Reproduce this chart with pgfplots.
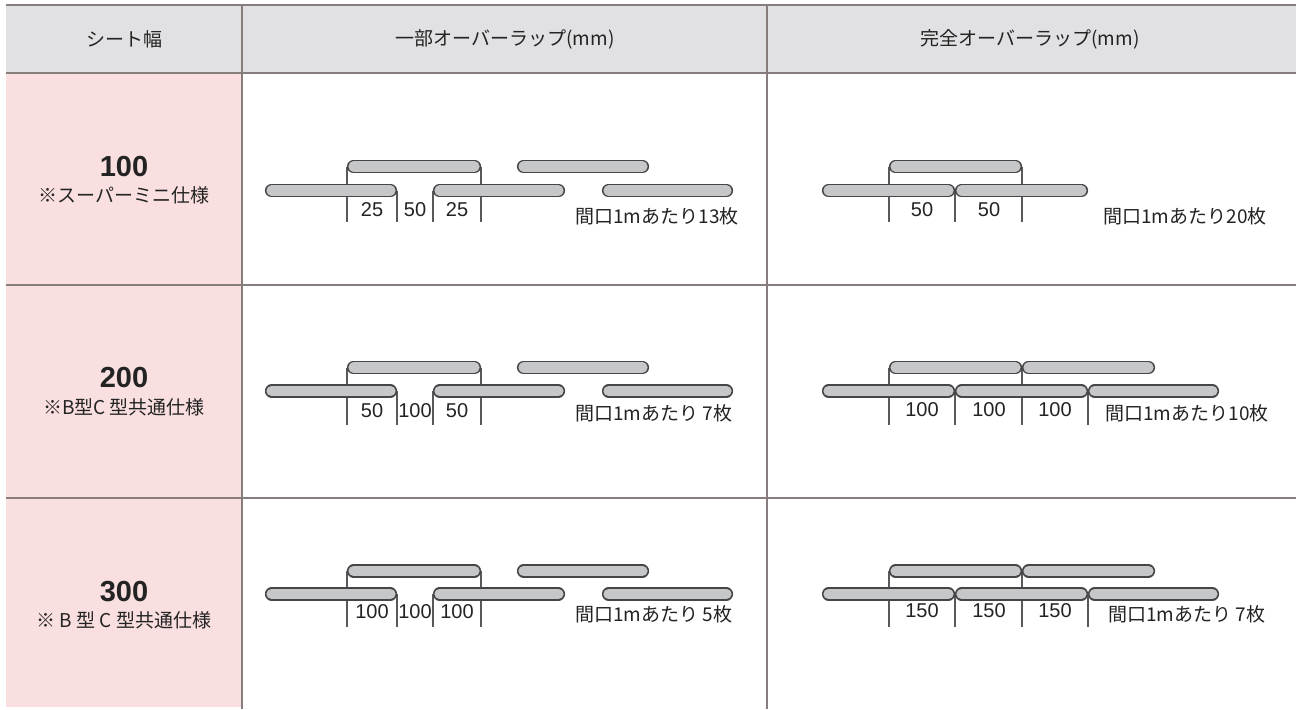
\documentclass[border=0pt]{standalone}
\usepackage{pgfplots}
\pgfplotsset{compat=1.18}
\usepackage{fontspec}
\setmainfont{Liberation Sans}
\newfontfamily\jp{Noto Sans CJK JP}
\definecolor{headgray}{RGB}{225,225,227}
\definecolor{pink}{RGB}{249,223,224}
\definecolor{rule}{RGB}{135,125,125}
\definecolor{slatfill}{RGB}{198,199,201}
\definecolor{slatline}{RGB}{70,70,73}
\definecolor{txt}{RGB}{35,35,35}
\begin{document}
\begin{tikzpicture}
\begin{axis}[
  width=648pt, height=354.5pt, scale only axis,
  xmin=0, xmax=1296, ymin=0, ymax=709, y dir=reverse,
  hide axis, unbounded coords=jump, clip=true,
  slatout/.style={line width=6.6pt, line cap=round, color=slatline, no marks},
  slatin/.style={line width=5.1pt, line cap=round, color=slatfill, no marks},
  dim/.style={line width=0.65pt, color=slatline!90, no marks},
  tab/.style={line width=0.8pt, color=rule, no marks},
]
% page background (full extent)
\addplot[fill=white, draw=none] coordinates {(0,0) (1296,0) (1296,709) (0,709)} -- cycle;
% backgrounds
\addplot[fill=headgray, draw=none] coordinates {(6,5) (1296,5) (1296,73) (6,73)} -- cycle;
\addplot[fill=pink, draw=none] coordinates {(6,73) (242,73) (242,707) (6,707)} -- cycle;
% table rules
\addplot[tab] coordinates {(6,5) (1296,5) (nan,nan) (6,73) (1296,73) (nan,nan) (6,285) (1296,285) (nan,nan) (6,498) (1296,498)};
\addplot[tab] coordinates {(242,5) (242,709) (nan,nan) (767,5) (767,709)};

% ---------- dimension lines ----------
% partial overlap
\addplot[dim] coordinates {
(347,166.5) (347,222) (nan,nan) (481,166.5) (481,222) (nan,nan) (397,190.5) (397,222) (nan,nan) (433,190.5) (433,222) (nan,nan)
(347,367.5) (347,425) (nan,nan) (481,367.5) (481,425) (nan,nan) (397,391) (397,425) (nan,nan) (433,391) (433,425) (nan,nan)
(347,571) (347,627) (nan,nan) (481,571) (481,627) (nan,nan) (397,594) (397,627) (nan,nan) (433,594) (433,627)};
% full overlap
\addplot[dim] coordinates {
(889,166.5) (889,222) (nan,nan) (1022,166.5) (1022,222) (nan,nan) (955,190.5) (955,222) (nan,nan)
(889,367.5) (889,425) (nan,nan) (1022,367.5) (1022,425) (nan,nan) (955,391) (955,425) (nan,nan) (1088,391) (1088,425) (nan,nan)
(889,571) (889,627) (nan,nan) (1022,571) (1022,627) (nan,nan) (955,594) (955,627) (nan,nan) (1088,594) (1088,627)};

% ---------- slats (outline then fill) ----------
\addplot[slatout] coordinates {
(271.5,190.5) (390.5,190.5) (nan,nan) (439.5,190.5) (558.5,190.5) (nan,nan) (608.5,190.5) (726.5,190.5) (nan,nan)
(353.5,166.5) (474.5,166.5) (nan,nan) (523.5,166.5) (642.5,166.5) (nan,nan)
(271.5,391) (390.5,391) (nan,nan) (439.5,391) (558.5,391) (nan,nan) (608.5,391) (726.5,391) (nan,nan)
(353.5,367.5) (474.5,367.5) (nan,nan) (523.5,367.5) (642.5,367.5) (nan,nan)
(271.5,594) (390.5,594) (nan,nan) (439.5,594) (558.5,594) (nan,nan) (608.5,594) (726.5,594) (nan,nan)
(353.5,571) (474.5,571) (nan,nan) (523.5,571) (642.5,571)};
\addplot[slatin] coordinates {
(271.5,190.5) (390.5,190.5) (nan,nan) (439.5,190.5) (558.5,190.5) (nan,nan) (608.5,190.5) (726.5,190.5) (nan,nan)
(353.5,166.5) (474.5,166.5) (nan,nan) (523.5,166.5) (642.5,166.5) (nan,nan)
(271.5,391) (390.5,391) (nan,nan) (439.5,391) (558.5,391) (nan,nan) (608.5,391) (726.5,391) (nan,nan)
(353.5,367.5) (474.5,367.5) (nan,nan) (523.5,367.5) (642.5,367.5) (nan,nan)
(271.5,594) (390.5,594) (nan,nan) (439.5,594) (558.5,594) (nan,nan) (608.5,594) (726.5,594) (nan,nan)
(353.5,571) (474.5,571) (nan,nan) (523.5,571) (642.5,571)};
\addplot[slatout] coordinates {
(828.5,190.5) (948.5,190.5) (nan,nan) (961.5,190.5) (1081.5,190.5) (nan,nan)
(895.5,166.5) (1015.5,166.5) (nan,nan)
(828.5,391) (948.5,391) (nan,nan) (961.5,391) (1081.5,391) (nan,nan) (1094.5,391) (1212.5,391) (nan,nan)
(895.5,367.5) (1015.5,367.5) (nan,nan) (1028.5,367.5) (1148.5,367.5) (nan,nan)
(828.5,594) (948.5,594) (nan,nan) (961.5,594) (1081.5,594) (nan,nan) (1094.5,594) (1212.5,594) (nan,nan)
(895.5,571) (1015.5,571) (nan,nan) (1028.5,571) (1148.5,571)};
\addplot[slatin] coordinates {
(828.5,190.5) (948.5,190.5) (nan,nan) (961.5,190.5) (1081.5,190.5) (nan,nan)
(895.5,166.5) (1015.5,166.5) (nan,nan)
(828.5,391) (948.5,391) (nan,nan) (961.5,391) (1081.5,391) (nan,nan) (1094.5,391) (1212.5,391) (nan,nan)
(895.5,367.5) (1015.5,367.5) (nan,nan) (1028.5,367.5) (1148.5,367.5) (nan,nan)
(828.5,594) (948.5,594) (nan,nan) (961.5,594) (1081.5,594) (nan,nan) (1094.5,594) (1212.5,594) (nan,nan)
(895.5,571) (1015.5,571) (nan,nan) (1028.5,571) (1148.5,571)};

% ---------- header text ----------
\begin{scope}[every node/.style={text=txt, inner sep=0pt, font=\jp\fontsize{9.5pt}{10pt}\selectfont}]
\node at (axis cs:124,39) {シート幅};
\node at (axis cs:505,39) {一部オーバーラップ(mm)};
\node at (axis cs:1030,39) {完全オーバーラップ(mm)};
% left column
\node at (axis cs:124,195) {※スーパーミニ仕様};
\node at (axis cs:124,407) {※B型C 型共通仕様};
\node at (axis cs:124,620) {※ B 型 C 型共通仕様};
% right texts
\node[anchor=west] at (axis cs:575,216) {間口1mあたり13枚};
\node[anchor=west] at (axis cs:575,413) {間口1mあたり 7枚};
\node[anchor=west] at (axis cs:575,614) {間口1mあたり 5枚};
\node[anchor=west] at (axis cs:1103,216) {間口1mあたり20枚};
\node[anchor=west] at (axis cs:1105,413) {間口1mあたり10枚};
\node[anchor=west] at (axis cs:1108,614) {間口1mあたり 7枚};
\end{scope}
\begin{scope}[every node/.style={text=txt, inner sep=0pt, font=\bfseries\fontsize{14.5pt}{15pt}\selectfont}]
\node at (axis cs:124,167) {100};
\node at (axis cs:124,378) {200};
\node at (axis cs:124,592) {300};
\end{scope}
\begin{scope}[every node/.style={text=txt, inner sep=0pt, font=\fontsize{10pt}{11pt}\selectfont}]
\node at (axis cs:372,210) {25};
\node at (axis cs:415,210) {50};
\node at (axis cs:457,210) {25};
\node at (axis cs:372,411) {50};
\node at (axis cs:415,411) {100};
\node at (axis cs:457,411) {50};
\node at (axis cs:372,612) {100};
\node at (axis cs:415,612) {100};
\node at (axis cs:457,612) {100};
\node at (axis cs:922,210) {50};
\node at (axis cs:989,210) {50};
\node at (axis cs:922,410) {100};
\node at (axis cs:989,410) {100};
\node at (axis cs:1055,410) {100};
\node at (axis cs:922,611) {150};
\node at (axis cs:989,611) {150};
\node at (axis cs:1055,611) {150};
\end{scope}
\end{axis}
\end{tikzpicture}
\end{document}
